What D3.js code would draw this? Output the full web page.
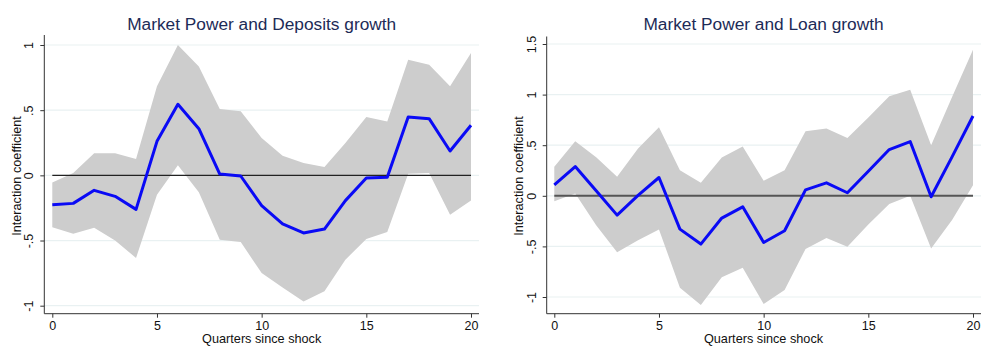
<!DOCTYPE html>
<html>
<head>
<meta charset="utf-8">
<script src="https://cdn.jsdelivr.net/npm/d3@7/dist/d3.min.js"></script>
<style>
  html, body { margin: 0; padding: 0; background: #fff; }
  svg { display: block; font-family: "Liberation Sans", Arial, Helvetica, sans-serif; }
</style>
</head>
<body>
<svg id="chart" width="982" height="346"></svg>
<script>
// Quarters since shock
const quarters = d3.range(0, 21);

// Deposits growth: point estimate and confidence band
const depCoef  = [-0.225, -0.215, -0.115, -0.161, -0.261, 0.261, 0.545, 0.358, 0.010, -0.005,
                  -0.233, -0.373, -0.442, -0.412, -0.194, -0.020, -0.015, 0.448, 0.435, 0.187, 0.384];
const depUpper = [-0.055, 0.018, 0.169, 0.169, 0.125, 0.683, 1.000, 0.836, 0.509, 0.491,
                  0.286, 0.151, 0.095, 0.064, 0.248, 0.448, 0.414, 0.887, 0.849, 0.683, 0.939];
const depLower = [-0.399, -0.448, -0.402, -0.499, -0.634, -0.148, 0.077, -0.130, -0.494, -0.512,
                  -0.749, -0.860, -0.967, -0.890, -0.647, -0.488, -0.435, 0.013, 0.018, -0.302, -0.192];

// Loan growth: point estimate and confidence band
const loanCoef  = [0.109, 0.289, 0.050, -0.191, 0.005, 0.181, -0.329, -0.477, -0.220, -0.109,
                   -0.461, -0.345, 0.059, 0.128, 0.030, 0.243, 0.457, 0.536, -0.010, 0.385, 0.789];
const loanUpper = [0.286, 0.539, 0.380, 0.188, 0.467, 0.678, 0.253, 0.128, 0.378, 0.487,
                   0.148, 0.253, 0.638, 0.664, 0.572, 0.773, 0.984, 1.049, 0.500, 0.977, 1.444];
const loanLower = [-0.053, 0.023, -0.290, -0.559, -0.440, -0.332, -0.908, -1.079, -0.806, -0.711,
                   -1.069, -0.931, -0.526, -0.418, -0.503, -0.283, -0.082, 0.000, -0.520, -0.240, 0.105];

// Axis ticks
const xTicks = [0, 5, 10, 15, 20];
const depYTicks = [-1, -0.5, 0, 0.5, 1];
const loanYTicks = [-1, -0.5, 0, 0.5, 1, 1.5];

const titles = ["Market Power and Deposits growth", "Market Power and Loan growth"];
const yTitle = "Interaction coefficient";
const xTitle = "Quarters since shock";

const fmt = v => {
  if (v === 0) return "0";
  let s = String(v);
  return s.replace(/^(-?)0\./, "$1.");
};

const svg = d3.select("#chart");

function panel(cfg) {
  const g = svg.append("g");
  const x = d3.scaleLinear().domain([0, 20]).range([cfg.x0, cfg.x20]);
  const y = d3.scaleLinear().domain(cfg.yDomain).range(cfg.yRange);

  // light horizontal gridlines
  g.append("g").selectAll("line").data(cfg.yTicks).join("line")
    .attr("x1", cfg.axisX).attr("x2", cfg.plotRight)
    .attr("y1", d => y(d)).attr("y2", d => y(d))
    .attr("stroke", "#e9f1f2").attr("stroke-width", 1.2);

  const rows = quarters.map((q, i) => ({ q, c: cfg.coef[i], lo: cfg.lower[i], hi: cfg.upper[i] }));

  // confidence band
  g.append("path").datum(rows)
    .attr("d", d3.area().x(d => x(d.q)).y0(d => y(d.lo)).y1(d => y(d.hi)))
    .attr("fill", "#cdcdcd");

  // zero reference line
  g.append("line")
    .attr("x1", x(0)).attr("x2", x(20)).attr("y1", y(0)).attr("y2", y(0))
    .attr("stroke", cfg.zeroColor).attr("stroke-width", cfg.zeroWidth);

  // point estimates
  g.append("path").datum(rows)
    .attr("d", d3.line().x(d => x(d.q)).y(d => y(d.c)))
    .attr("fill", "none").attr("stroke", "#0a0af5").attr("stroke-width", 3)
    .attr("stroke-linejoin", "round");

  // y axis
  const yAxis = g.append("g").attr("transform", `translate(${cfg.axisX},0)`)
    .call(d3.axisLeft(y).tickValues(cfg.yTicks).tickFormat(fmt).tickSize(4).tickSizeOuter(0));
  yAxis.select(".domain").attr("d", `M0,${cfg.axisTop}V${cfg.axisBottom}`).attr("stroke", "#333");
  yAxis.selectAll(".tick line").attr("stroke", "#333");
  yAxis.selectAll(".tick text")
    .attr("x", 0).attr("dy", 0)
    .attr("transform", `translate(${-cfg.yLabelOffset},0) rotate(-90)`)
    .attr("text-anchor", "middle").attr("dominant-baseline", "auto")
    .attr("font-size", 12.5).attr("fill", "#111")
    .attr("font-family", "'Liberation Sans', Arial, sans-serif");

  // x axis
  const xAxis = g.append("g").attr("transform", `translate(0,${cfg.axisBottom})`)
    .call(d3.axisBottom(x).tickValues(xTicks).tickFormat(d3.format("d")).tickSize(4).tickSizeOuter(0));
  xAxis.select(".domain").attr("d", `M${cfg.axisX},0H${cfg.plotRight}`).attr("stroke", "#333");
  xAxis.selectAll(".tick line").attr("stroke", "#333");
  xAxis.selectAll(".tick text").attr("y", 7).attr("dy", "0.71em")
    .attr("font-size", 12.5).attr("fill", "#111")
    .attr("font-family", "'Liberation Sans', Arial, sans-serif");

  // titles
  g.append("text").attr("x", cfg.titleX).attr("y", 30)
    .attr("text-anchor", "middle").attr("font-size", 17.3).attr("fill", "#1d2b57")
    .text(cfg.title);
  g.append("text").attr("transform", `translate(${cfg.yTitleX},${cfg.yTitleY}) rotate(-90)`)
    .attr("text-anchor", "middle").attr("font-size", 12.7).attr("fill", "#111")
    .text(yTitle);
  g.append("text").attr("x", cfg.titleX).attr("y", 343)
    .attr("text-anchor", "middle").attr("font-size", 12.7).attr("fill", "#111")
    .text(xTitle);
}

panel({
  title: titles[0], coef: depCoef, upper: depUpper, lower: depLower,
  yTicks: depYTicks, yDomain: [-1, 1], yRange: [305.7, 45],
  x0: 52.3, x20: 471, axisX: 44.3, plotRight: 479, axisTop: 35, axisBottom: 313.7,
  titleX: 261.7, yTitleX: 21, yTitleY: 176, yLabelOffset: 11,
  zeroColor: "#222", zeroWidth: 1.3
});

panel({
  title: titles[1], coef: loanCoef, upper: loanUpper, lower: loanLower,
  yTicks: loanYTicks, yDomain: [-1, 1.5], yRange: [297, 44],
  x0: 554.3, x20: 973, axisX: 546.7, plotRight: 981, axisTop: 36.5, axisBottom: 313.7,
  titleX: 763.5, yTitleX: 522.5, yTitleY: 176, yLabelOffset: 11,
  zeroColor: "#555", zeroWidth: 2
});
</script>
</body>
</html>
